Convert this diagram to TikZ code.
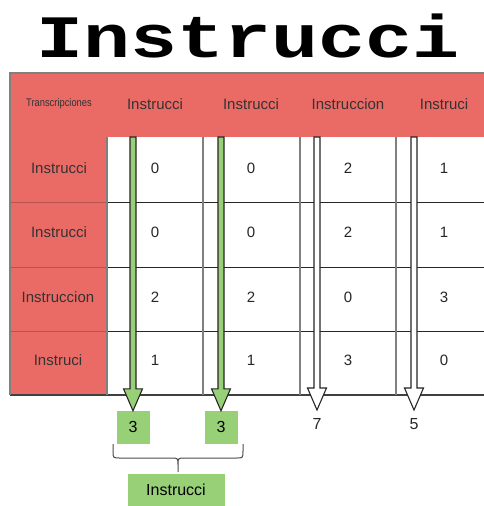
\documentclass[tikz,border=0pt]{standalone}
\usepackage{fontspec}
\setmainfont{Liberation Sans}
\newfontfamily\titlefont{Liberation Mono}
\usetikzlibrary{calc}
\definecolor{hdrred}{HTML}{EA6B66}
\definecolor{hdrline}{HTML}{B85450}
\definecolor{okgreen}{HTML}{97D077}
\definecolor{gridgray}{HTML}{808080}
\tikzset{
  x=1pt, y=-1pt,
  cell/.style={font=\fontsize{15}{17}\selectfont, text=black!85, inner sep=0pt},
  hdr/.style={font=\fontsize{15}{17}\selectfont, text=black!80, inner sep=0pt},
  hdrsmall/.style={font=\fontsize{11}{13}\selectfont, text=black!80, inner sep=0pt},
  resbox/.style={fill=okgreen, draw=okgreen, minimum width=32pt, minimum height=32pt, inner sep=0pt, font=\fontsize{16}{18}\selectfont},
  plain/.style={inner sep=0pt, font=\fontsize{16}{18}\selectfont, text=black!85},
  garrow/.style={fill=okgreen, draw=black!85, line width=1.1pt, line join=miter},
  warrow/.style={fill=white, draw=black!85, line width=1.1pt, line join=miter},
}
\begin{document}
\begin{tikzpicture}
\useasboundingbox (0,0) rectangle (483,506);
\fill[white] (0,0) rectangle (483,506);

% title
\node[inner sep=0pt, anchor=base] (title) at (248,57)
  {\scalebox{1.12}[0.86]{\titlefont\bfseries\fontsize{70}{70}\selectfont Instrucci}};

% table background
\fill[hdrred] (10,73) rectangle (495,137);
\fill[hdrred] (10,137) rectangle (107,395);
\fill[white] (107,137) rectangle (495,395);

% grid
\foreach \yy in {202,267,331} {
  \draw[hdrline, line width=0.8pt] (10,\yy) -- (107,\yy);
  \draw[black!85, line width=1pt] (107,\yy) -- (495,\yy);
}
\draw[black!75, line width=1.2pt] (10,395) -- (495,395);
\foreach \xx in {107,203,300,396}
  \draw[gridgray, line width=1.2pt] (\xx,137) -- (\xx,395);
\draw[gridgray, line width=1.2pt] (10,395) -- (10,73) -- (495,73);

% header row
\node[hdrsmall] (h0) at (59,104) {\scalebox{0.85}[1]{Transcripciones}};
\node[hdr] (h1) at (155,104) {Instrucci};
\node[hdr] (h2) at (251,104) {Instrucci};
\node[hdr] (h3) at (348,104) {Instruccion};
\node[hdr] (h4) at (444,104) {Instruci};

% row labels
\node[hdr] (r1) at (59,168) {Instrucci};
\node[hdr] (r2) at (59,232) {Instrucci};
\node[hdr] (r3) at (58,297) {Instruccion};
\node[hdr] (r4) at (58,360) {Instruci};

% cell values
\node[cell] (c11) at (155,168) {0};
\node[cell] (c12) at (251,168) {0};
\node[cell] (c13) at (348,168) {2};
\node[cell] (c14) at (444,168) {1};
\node[cell] (c21) at (155,232) {0};
\node[cell] (c22) at (251,232) {0};
\node[cell] (c23) at (348,232) {2};
\node[cell] (c24) at (444,232) {1};
\node[cell] (c31) at (155,297) {2};
\node[cell] (c32) at (251,297) {2};
\node[cell] (c33) at (348,297) {0};
\node[cell] (c34) at (444,297) {3};
\node[cell] (c41) at (155,360) {1};
\node[cell] (c42) at (251,360) {1};
\node[cell] (c43) at (348,360) {3};
\node[cell] (c44) at (444,360) {0};

% column totals
\node[resbox] (t1) at (133,427) {3};
\node[resbox] (t2) at (221,427) {3};
\node[plain] (t3) at (317,424) {7};
\node[plain] (t4) at (414,424) {5};

% arrow start points at the header bottom
\coordinate (s1) at (133,137);
\coordinate (s2) at (221,137);
\coordinate (s3) at (317,137);
\coordinate (s4) at (414,137);
\coordinate (e1) at (t1.north);
\coordinate (e2) at (t2.north);
\coordinate (e3) at (317,410);
\coordinate (e4) at (414,410);

% block arrows down each column
\foreach \s/\e/\st in {s1/e1/garrow, s2/e2/garrow, s3/e3/warrow, s4/e4/warrow} {
  \draw[\st] ($(\s)+(-3,0)$) -- ($(\s|-\e)+(-3,-22)$) -- ($(\s|-\e)+(-9.5,-22)$)
    -- (\s|-\e) -- ($(\s|-\e)+(9.5,-22)$) -- ($(\s|-\e)+(3,-22)$)
    -- ($(\s)+(3,0)$) -- cycle;
}

% brace grouping the two green totals
\coordinate (bl) at (113,444);
\coordinate (br) at (243,444);
\coordinate (bm) at (178,472);
\draw[black!70, line width=1pt]
  (bl) -- (113,451) .. controls (113,458) .. (120,458) -- (171,458)
  .. controls (178,458) .. (178,465) -- (bm)
  (178,465) .. controls (178,458) .. (185,458) -- (236,458)
  .. controls (243,458) .. (243,451) -- (br);

% result
\node[resbox, minimum width=96pt, minimum height=32pt] (res) at (176,490) {Instrucci};
\end{tikzpicture}
\end{document}
